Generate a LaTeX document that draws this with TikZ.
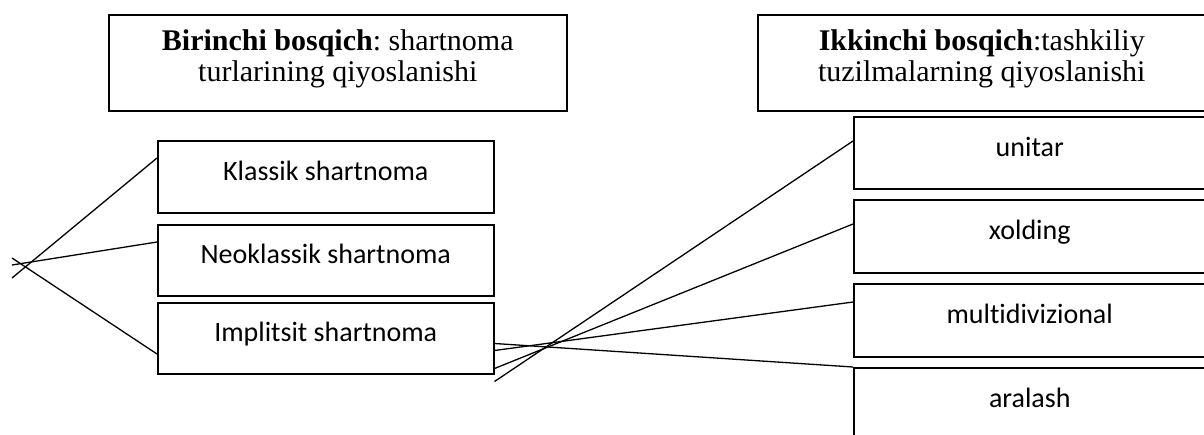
\documentclass[tikz,border=0pt]{standalone}
\usepackage{fontspec}
\setmainfont{Liberation Serif}
\newfontfamily\calibri[Ligatures=NoCommon]{Carlito}
\usetikzlibrary{calc}
\frenchspacing
\tikzset{
  bosqich/.style={draw, line width=1.5pt, inner sep=0pt, anchor=north west, align=center,
    minimum height=96pt, text depth=14pt, font=\fontsize{30}{30.5}\selectfont},
  turi/.style={draw, line width=1.5pt, inner sep=0pt, anchor=north west,
    text height=20pt, text depth=13pt, font=\calibri\fontsize{28}{30}\selectfont},
  bog/.style={line width=1.3pt}
}
\begin{document}
\begin{tikzpicture}[x=1pt, y=-1pt]
        \useasboundingbox (0,0) rectangle (1204,434);
        %%%%%%%%%%%%%%%%%%%%%%%% Bosqichlar (arriba) %%%%%%%%%%%%%%%%%%%%%%%%%%%%%%%%%%%
        \node[bosqich, minimum width=458pt] (birinchi) at (108,14)
          {\textbf{Birinchi bosqich}: shartnoma\\turlarining qiyoslanishi};
        \node[bosqich, minimum width=448pt] (ikkinchi) at (757,14)
          {\textbf{Ikkinchi bosqich}:tashkiliy\\tuzilmalarning qiyoslanishi};
        %%%%%%%%%%%%%%%%%%%%%%%% Shartnoma turlari (izquierda) %%%%%%%%%%%%%%%%%%%%%%%%%%
        \node[turi, minimum width=336pt, minimum height=72pt] (klassik) at (157,140) {Klassik shartnoma};
        \node[turi, minimum width=336pt, minimum height=71pt] (neoklassik) at (157,224) {Neoklassik shartnoma};
        \node[turi, minimum width=336pt, minimum height=71pt] (implitsit) at (157,302) {Implitsit shartnoma};
        %%%%%%%%%%%%%%%%%%%%%%%% Tuzilmalar (derecha) %%%%%%%%%%%%%%%%%%%%%%%%%%%%%%%%%%
        \node[turi, minimum width=352pt, minimum height=72pt] (unitar) at (853,116) {unitar};
        \node[turi, minimum width=352pt, minimum height=73pt] (xolding) at (853,199) {xolding};
        \node[turi, minimum width=352pt, minimum height=73pt] (multidiv) at (853,283) {multidivizional};
        \node[turi, minimum width=352pt, minimum height=72pt] (aralash) at (853,367) {aralash};
        %%%%%%%%%%%%%%%%%%%%%%%% Extremos libres %%%%%%%%%%%%%%%%%%%%%%%%%%%%%%%%%%%%%%%
        \coordinate (chap1) at (12,278);
        \coordinate (chap2) at (12,265);
        \coordinate (chap3) at (12,258);
        \coordinate (ong1) at ($(implitsit.south east)+(0,7)$);
        %%%%%%%%%%%%%%%%%%%%%%%% Lineas izquierda %%%%%%%%%%%%%%%%%%%%%%%%%%%%%%%%%%%%%%
        \draw[bog] (chap1) -- ($(klassik.north west)+(0,18)$);
        \draw[bog] (chap2) -- ($(neoklassik.north west)+(0,18)$);
        \draw[bog] (chap3) -- ($(implitsit.north west)+(0,52)$);
        %%%%%%%%%%%%%%%%%%%%%%%% Lineas derecha %%%%%%%%%%%%%%%%%%%%%%%%%%%%%%%%%%%%%%%%
        \draw[bog] (ong1) -- ($(unitar.north west)+(0,25)$);
        \draw[bog] ($(implitsit.south east)+(0,-6)$) -- ($(xolding.north west)+(0,25)$);
        \draw[bog] ($(implitsit.south east)+(0,-24)$) -- ($(multidiv.north west)+(0,19)$);
        \draw[bog] ($(implitsit.south east)+(0,-31)$) -- (aralash.north west);
      \end{tikzpicture}
\end{document}
